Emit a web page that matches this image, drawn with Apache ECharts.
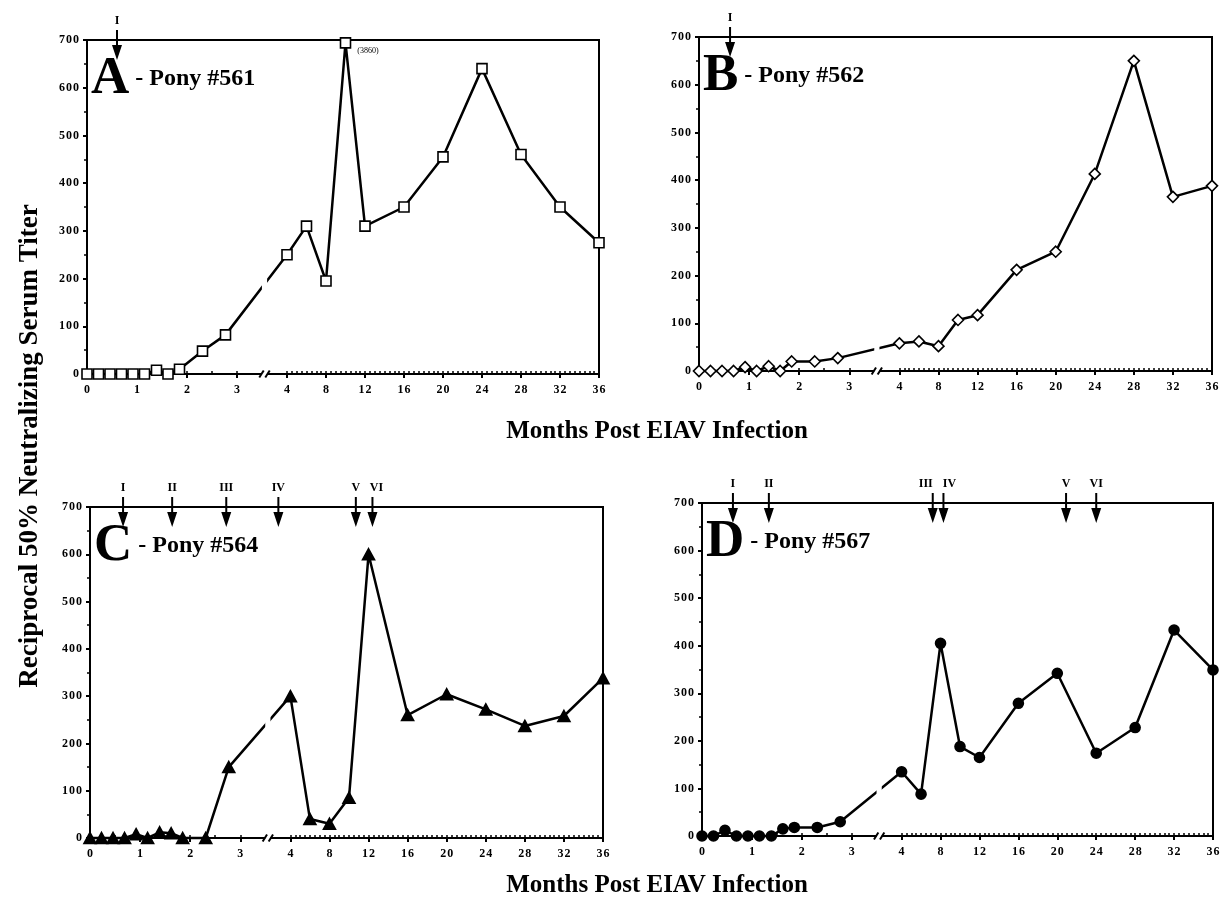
<!DOCTYPE html>
<html><head><meta charset="utf-8">
<script src="https://cdn.jsdelivr.net/npm/echarts@6/dist/echarts.min.js"></script>
<style>html,body{margin:0;padding:0;background:#fff}#c{width:1221px;height:897px}</style>
</head><body><div id="c"></div><script>
// ---------- data (months post infection, reciprocal titer) ----------
const monthsA = [0,0.23,0.46,0.69,0.92,1.15,1.39,1.62,1.85,2.31,2.77,4,6,8,10,12,16,20,24,28,32,36];
const titerA  = [0,0,0,0,0,0,8,0,10,48,82,250,310,195,3860,310,350,455,640,460,350,275];
const monthsB = [0,0.23,0.46,0.69,0.92,1.15,1.39,1.62,1.85,2.31,2.77,4,6,8,10,12,16,20,24,28,32,36];
const titerB  = [0,0,0,0,8,0,10,0,20,20,27,58,62,52,107,117,212,250,413,650,365,388];
const monthsC = [0,0.23,0.46,0.69,0.92,1.15,1.39,1.62,1.85,2.31,2.77,4,6,8,10,12,16,20,24,28,32,36];
const titerC  = [0,0,0,0,8,0,12,10,0,0,150,300,40,30,85,600,260,304,272,237,258,338];
const monthsD = [0,0.23,0.46,0.69,0.92,1.15,1.39,1.62,1.85,2.31,2.77,4,6,8,10,12,16,20,24,28,32,36];
const titerD  = [0,0,12,0,0,0,0,15,18,18,30,135,88,405,188,165,279,342,174,228,433,349];

// arrows (months) and their labels
const arrowMonthsA = [0.6];                 const arrowLabelsA = ['I'];
const arrowMonthsB = [0.62];                const arrowLabelsB = ['I'];
const arrowMonthsC = [0.66,1.64,2.72,3.76,10.7,12.4];
const arrowLabelsC = ['I','II','III','IV','V','VI'];
const arrowMonthsD = [0.62,1.34,7.2,8.3,20.9,24];
const arrowLabelsD = ['I','II','III','IV','V','VI'];

// axis ticks
const tickMonths = [0,1,2,3,4,8,12,16,20,24,28,32,36];
const minorTickMonths = [0.5,1,1.5,2,2.5,3].concat(
  Array.from({length:64},(_,i)=>4+i*0.5)); // half-month minor ticks
const CAP = 694;           // values above the axis top are drawn at the top with their value noted
const BREAK_MONTH = 3.55;  // position of the axis break

// ---------- broken axis scale: 0-4 months linear, then compressed ----------
const K = 0.195;
function pos(m){ return m <= 4 ? m : 4 + (m - 4) * K; }
function unpos(p){ return p <= 4 ? p : 4 + (p - 4) / K; }
const AXMAX = pos(36);

const FONT = 'Liberation Serif';
const gridLeft = [87, 699, 90, 702];
const gridTop  = [40, 37, 507, 503];
const gridW    = [512, 513, 513, 511];
const gridH    = [334, 334, 331, 333];
// horizontal nudges for crowded arrow labels (style only)
const labelNudge = [{}, {}, {5:4}, {2:-7, 3:6}];

const panels = [
  {m: monthsA, v: titerA, symbol:'rect', size:10, fill:'#fff', letter:'A', pony:'561', am: arrowMonthsA, al: arrowLabelsA},
  {m: monthsB, v: titerB, symbol:'diamond', size:11, fill:'#fff', letter:'B', pony:'562', am: arrowMonthsB, al: arrowLabelsB},
  {m: monthsC, v: titerC, symbol:'triangle', size:[12,11], fill:'#000', letter:'C', pony:'564', am: arrowMonthsC, al: arrowLabelsC},
  {m: monthsD, v: titerD, symbol:'circle', size:10, fill:'#000', letter:'D', pony:'567', am: arrowMonthsD, al: arrowLabelsD}
];

const spaced = s => s.split('').join('\u200A');
const majorPos = tickMonths.map(pos);
const minorPos = minorTickMonths.filter(m => tickMonths.indexOf(m) < 0).map(pos);
const insidePos = majorPos.concat(minorPos);
const labelFont = {color:'#000', fontFamily:FONT, fontWeight:'bold', fontSize:12};

const ARROW = 'path://M4,0 L6,0 L6,15 L10,15 L5,30 L0,15 L4,15 Z';

const option = {
  animation: false,
  backgroundColor: '#fff',
  grid: panels.map((p,i)=>({left:gridLeft[i], top:gridTop[i], width:gridW[i], height:gridH[i],
    show:true, borderColor:'#000', borderWidth:2, backgroundColor:'transparent',
    containLabel:false, outerBoundsMode:'none'})),
  xAxis: panels.flatMap((p,i)=>[
    {gridIndex:i, type:'value', min:0, max:AXMAX, position:'bottom',
      axisLine:{show:true, onZero:false, lineStyle:{color:'#000', width:2}},
      axisTick:{show:true, customValues:majorPos, length:4, inside:false, lineStyle:{color:'#000', width:2}},
      axisLabel:Object.assign({show:true, customValues:majorPos, margin:10,
        formatter: v => spaced(String(Math.round(unpos(v))))}, labelFont),
      splitLine:{show:false}},
    {gridIndex:i, type:'value', min:0, max:AXMAX, position:'bottom',
      axisLine:{show:false},
      axisTick:{show:true, customValues:insidePos, inside:true, length:3, lineStyle:{color:'#000', width:1.5}},
      axisLabel:{show:false}, splitLine:{show:false}}
  ]),
  yAxis: panels.map((p,i)=>({gridIndex:i, type:'value', min:0, max:700, interval:100,
    axisLine:{show:true, onZero:false, lineStyle:{color:'#000', width:2}},
    axisTick:{show:true, length:4, lineStyle:{color:'#000', width:2}},
    minorTick:{show:true, splitNumber:2, length:3, lineStyle:{color:'#000', width:1.5}},
    axisLabel:Object.assign({margin:8, formatter: v => spaced(String(v))}, labelFont),
    splitLine:{show:false}})),
  series: panels.flatMap((p,i)=>[
    {type:'line', xAxisIndex:2*i, yAxisIndex:i, clip:false, z:3,
      symbol:p.symbol, symbolSize:p.size, showAllSymbol:true,
      lineStyle:{color:'#000', width:2.5},
      itemStyle:{color:p.fill, borderColor:'#000', borderWidth:1.6, opacity:1},
      data: p.m.map((m,j)=>{
        const v = p.v[j];
        if (v > CAP) return {value:[pos(m), CAP],
          label:{show:true, formatter:'(' + v + ')', position:'right', distance:6, offset:[0,8],
            color:'#000', fontFamily:FONT, fontSize:8}};
        return [pos(m), v];
      })},
    {type:'scatter', xAxisIndex:2*i, yAxisIndex:i, clip:false, z:5, silent:true,
      symbol:ARROW, symbolSize:[10,30], symbolOffset:[0,5], symbolKeepAspect:false,
      itemStyle:{color:'#000', opacity:1},
      label:Object.assign({show:true, position:'top', distance:3, formatter:'{b}'}, labelFont),
      data: p.am.map((m,j)=>{
        const item = {name:p.al[j], value:[pos(m), 700]};
        if (labelNudge[i][j]) item.label = {offset:[labelNudge[i][j], 0]};
        return item;
      })}
  ])
};

const chart = echarts.init(document.getElementById('c'));
chart.setOption(option);

// ---------- decorations: axis breaks, panel letters, axis titles ----------
const g = [];
panels.forEach((p,i)=>{
  const top = gridTop[i], bottom = gridTop[i] + gridH[i];
  const cx = chart.convertToPixel({gridIndex:i}, [pos(BREAK_MONTH), 0])[0];
  g.push({type:'rect', z:100, silent:true,
    shape:{x:cx-2.6, y:top+2, width:5.2, height:bottom+4-(top+2)}, style:{fill:'#fff'}});
  [-3, 3].forEach(d => g.push({type:'line', z:101, silent:true,
    shape:{x1:cx+d-2.2, y1:bottom+3.5, x2:cx+d+2.2, y2:bottom-3.5},
    style:{stroke:'#000', lineWidth:2}}));
  g.push({type:'text', z:102, silent:true, x:gridLeft[i]+4, y:top+39,
    style:{text:'{big|' + p.letter + '}{sm| - Pony #' + p.pony + '}', verticalAlign:'middle', fill:'#000',
      rich:{big:{fontSize:53, fontWeight:'bold', fontFamily:FONT, verticalAlign:'middle'},
            sm:{fontSize:24, fontWeight:'bold', fontFamily:FONT, verticalAlign:'middle'}}}});
});
['Months Post EIAV Infection'].forEach(t=>{
  [432, 886].forEach(y => g.push({type:'text', silent:true, x:657, y:y,
    style:{text:t, fontSize:25, fontWeight:'bold', fontFamily:FONT, fill:'#000', align:'center', verticalAlign:'middle'}}));
});
g.push({type:'text', silent:true, x:30, y:446, rotation:Math.PI/2,
  style:{text:'Reciprocal 50% Neutralizing Serum Titer', fontSize:27, fontWeight:'bold', fontFamily:FONT,
    fill:'#000', align:'center', verticalAlign:'middle'}});
chart.setOption({graphic:{elements:g}});
</script></body></html>
